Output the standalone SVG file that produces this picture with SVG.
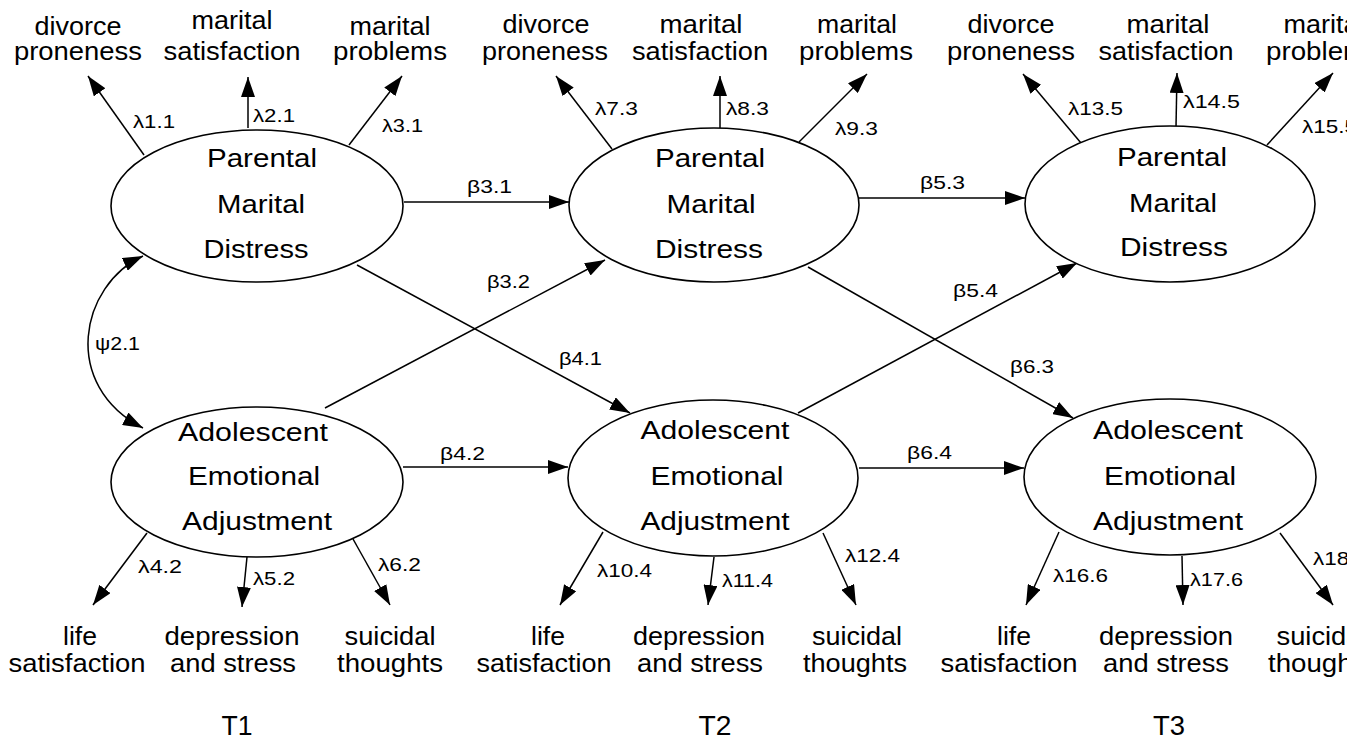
<svg xmlns="http://www.w3.org/2000/svg" width="1359" height="742" viewBox="0 0 1359 742">
<style>
.e{fill:#fff;stroke:#000;stroke-width:1.6}
.c{fill:none;stroke:#000;stroke-width:1.5}
text{font-family:"Liberation Sans",Arial,sans-serif;fill:#000}
.n{font-size:26px;text-anchor:middle}
.m{font-size:25px;text-anchor:middle}
.g{font-size:19px}
.t{font-size:27px;text-anchor:middle}
</style>
<defs>
<marker id="a" viewBox="0 0 20 14" markerWidth="20" markerHeight="14" markerUnits="userSpaceOnUse" refX="20" refY="7" orient="auto-start-reverse"><path d="M0,0 L20,7 L0,14 z" fill="#000"/></marker>
<clipPath id="clip"><rect x="0" y="0" width="1347" height="742"/></clipPath>
</defs>
<rect width="1359" height="742" fill="#fff"/>
<g clip-path="url(#clip)">
<g id="connectors">
<path class="c" marker-end="url(#a)" d="M144,155 L88,76"/>
<path class="c" marker-end="url(#a)" d="M248,128 L248,77"/>
<path class="c" marker-end="url(#a)" d="M349,145 L402,76"/>
<path class="c" marker-end="url(#a)" d="M612,149 L556,76"/>
<path class="c" marker-end="url(#a)" d="M720,128 L720,76"/>
<path class="c" marker-end="url(#a)" d="M799,142 L867,74"/>
<path class="c" marker-end="url(#a)" d="M1081,143 L1023,74"/>
<path class="c" marker-end="url(#a)" d="M1176,127 L1177,73"/>
<path class="c" marker-end="url(#a)" d="M1267,145 L1333,73"/>
<path class="c" marker-end="url(#a)" d="M147,533 L93,605"/>
<path class="c" marker-end="url(#a)" d="M247,557 L242,607"/>
<path class="c" marker-end="url(#a)" d="M353,539 L390,605"/>
<path class="c" marker-end="url(#a)" d="M603,532 L560,605"/>
<path class="c" marker-end="url(#a)" d="M714,557 L708,605"/>
<path class="c" marker-end="url(#a)" d="M823,533 L856,605"/>
<path class="c" marker-end="url(#a)" d="M1059,532 L1026,605"/>
<path class="c" marker-end="url(#a)" d="M1182,556 L1183,605"/>
<path class="c" marker-end="url(#a)" d="M1280,533 L1333,605"/>
<path class="c" marker-end="url(#a)" d="M404,202 L569,202"/>
<path class="c" marker-end="url(#a)" d="M859,198 L1025,198"/>
<path class="c" marker-end="url(#a)" d="M403,467 L568,467"/>
<path class="c" marker-end="url(#a)" d="M859,468 L1024,468"/>
<path class="c" marker-end="url(#a)" d="M357,265 L630,413"/>
<path class="c" marker-end="url(#a)" d="M325,408 L605,260"/>
<path class="c" marker-end="url(#a)" d="M808,267 L1073,418"/>
<path class="c" marker-end="url(#a)" d="M798,413 L1077,263"/>
<path class="c" marker-start="url(#a)" marker-end="url(#a)" d="M143,256 C80,285 60,385 143,428"/>
</g>
<g id="labels">
<text class="g" x="133" y="128" textLength="42" lengthAdjust="spacingAndGlyphs">λ1.1</text>
<text class="g" x="253" y="122" textLength="42" lengthAdjust="spacingAndGlyphs">λ2.1</text>
<text class="g" x="382" y="132" textLength="41" lengthAdjust="spacingAndGlyphs">λ3.1</text>
<text class="g" x="595" y="115" textLength="43" lengthAdjust="spacingAndGlyphs">λ7.3</text>
<text class="g" x="726" y="115" textLength="43" lengthAdjust="spacingAndGlyphs">λ8.3</text>
<text class="g" x="835" y="135" textLength="43" lengthAdjust="spacingAndGlyphs">λ9.3</text>
<text class="g" x="1068" y="115" textLength="55" lengthAdjust="spacingAndGlyphs">λ13.5</text>
<text class="g" x="1183" y="108" textLength="57" lengthAdjust="spacingAndGlyphs">λ14.5</text>
<text class="g" x="1302" y="133" textLength="55" lengthAdjust="spacingAndGlyphs">λ15.5</text>
<text class="g" x="138" y="573" textLength="44" lengthAdjust="spacingAndGlyphs">λ4.2</text>
<text class="g" x="253" y="585" textLength="42" lengthAdjust="spacingAndGlyphs">λ5.2</text>
<text class="g" x="378" y="571" textLength="43" lengthAdjust="spacingAndGlyphs">λ6.2</text>
<text class="g" x="597" y="577" textLength="55" lengthAdjust="spacingAndGlyphs">λ10.4</text>
<text class="g" x="722" y="587" textLength="51" lengthAdjust="spacingAndGlyphs">λ11.4</text>
<text class="g" x="845" y="562" textLength="55" lengthAdjust="spacingAndGlyphs">λ12.4</text>
<text class="g" x="1053" y="582" textLength="55" lengthAdjust="spacingAndGlyphs">λ16.6</text>
<text class="g" x="1190" y="586" textLength="53" lengthAdjust="spacingAndGlyphs">λ17.6</text>
<text class="g" x="1313" y="565" textLength="55" lengthAdjust="spacingAndGlyphs">λ18.6</text>
<text class="g" x="467" y="193" textLength="45" lengthAdjust="spacingAndGlyphs">β3.1</text>
<text class="g" x="920" y="189" textLength="45" lengthAdjust="spacingAndGlyphs">β5.3</text>
<text class="g" x="440" y="460" textLength="45" lengthAdjust="spacingAndGlyphs">β4.2</text>
<text class="g" x="907" y="459" textLength="45" lengthAdjust="spacingAndGlyphs">β6.4</text>
<text class="g" x="559" y="365" textLength="43" lengthAdjust="spacingAndGlyphs">β4.1</text>
<text class="g" x="487" y="288" textLength="43" lengthAdjust="spacingAndGlyphs">β3.2</text>
<text class="g" x="1010" y="373" textLength="44" lengthAdjust="spacingAndGlyphs">β6.3</text>
<text class="g" x="953" y="297" textLength="45" lengthAdjust="spacingAndGlyphs">β5.4</text>
<text class="g" x="95" y="350" textLength="45" lengthAdjust="spacingAndGlyphs">ψ2.1</text>
</g>
<g id="pmd1">
<ellipse class="e" cx="257" cy="206" rx="146" ry="76"/>
<text class="n" x="262" y="167" textLength="110" lengthAdjust="spacingAndGlyphs">Parental</text>
<text class="n" x="261" y="213" textLength="88" lengthAdjust="spacingAndGlyphs">Marital</text>
<text class="n" x="256" y="258" textLength="105" lengthAdjust="spacingAndGlyphs">Distress</text>
</g>
<g id="pmd2">
<ellipse class="e" cx="714" cy="205" rx="145" ry="77"/>
<text class="n" x="710" y="167" textLength="110" lengthAdjust="spacingAndGlyphs">Parental</text>
<text class="n" x="711" y="213" textLength="89" lengthAdjust="spacingAndGlyphs">Marital</text>
<text class="n" x="709" y="258" textLength="108" lengthAdjust="spacingAndGlyphs">Distress</text>
</g>
<g id="pmd3">
<ellipse class="e" cx="1170" cy="204" rx="145" ry="78"/>
<text class="n" x="1172" y="166" textLength="110" lengthAdjust="spacingAndGlyphs">Parental</text>
<text class="n" x="1173" y="212" textLength="88" lengthAdjust="spacingAndGlyphs">Marital</text>
<text class="n" x="1174" y="256" textLength="108" lengthAdjust="spacingAndGlyphs">Distress</text>
</g>
<g id="aea1">
<ellipse class="e" cx="257" cy="482" rx="146" ry="75"/>
<text class="n" x="253" y="441" textLength="150" lengthAdjust="spacingAndGlyphs">Adolescent</text>
<text class="n" x="254" y="485" textLength="132" lengthAdjust="spacingAndGlyphs">Emotional</text>
<text class="n" x="257" y="530" textLength="150" lengthAdjust="spacingAndGlyphs">Adjustment</text>
</g>
<g id="aea2">
<ellipse class="e" cx="713" cy="478" rx="145" ry="78"/>
<text class="n" x="715" y="439" textLength="149" lengthAdjust="spacingAndGlyphs">Adolescent</text>
<text class="n" x="717" y="485" textLength="133" lengthAdjust="spacingAndGlyphs">Emotional</text>
<text class="n" x="715" y="530" textLength="149" lengthAdjust="spacingAndGlyphs">Adjustment</text>
</g>
<g id="aea3">
<ellipse class="e" cx="1170" cy="477" rx="146" ry="78"/>
<text class="n" x="1168" y="439" textLength="150" lengthAdjust="spacingAndGlyphs">Adolescent</text>
<text class="n" x="1170" y="485" textLength="132" lengthAdjust="spacingAndGlyphs">Emotional</text>
<text class="n" x="1168" y="530" textLength="150" lengthAdjust="spacingAndGlyphs">Adjustment</text>
</g>
<g id="ind-divorce1"><text class="m" x="78" y="35" textLength="87" lengthAdjust="spacingAndGlyphs">divorce</text><text class="m" x="78" y="60" textLength="128" lengthAdjust="spacingAndGlyphs">proneness</text></g>
<g id="ind-msat1"><text class="m" x="232" y="29" textLength="81" lengthAdjust="spacingAndGlyphs">marital</text><text class="m" x="232" y="60" textLength="137" lengthAdjust="spacingAndGlyphs">satisfaction</text></g>
<g id="ind-mprob1"><text class="m" x="390" y="35" textLength="81" lengthAdjust="spacingAndGlyphs">marital</text><text class="m" x="390" y="60" textLength="114" lengthAdjust="spacingAndGlyphs">problems</text></g>
<g id="ind-divorce2"><text class="m" x="546" y="33" textLength="87" lengthAdjust="spacingAndGlyphs">divorce</text><text class="m" x="545" y="60" textLength="126" lengthAdjust="spacingAndGlyphs">proneness</text></g>
<g id="ind-msat2"><text class="m" x="701" y="33" textLength="83" lengthAdjust="spacingAndGlyphs">marital</text><text class="m" x="700" y="60" textLength="136" lengthAdjust="spacingAndGlyphs">satisfaction</text></g>
<g id="ind-mprob2"><text class="m" x="857" y="33" textLength="80" lengthAdjust="spacingAndGlyphs">marital</text><text class="m" x="856" y="60" textLength="114" lengthAdjust="spacingAndGlyphs">problems</text></g>
<g id="ind-divorce3"><text class="m" x="1011" y="33" textLength="87" lengthAdjust="spacingAndGlyphs">divorce</text><text class="m" x="1011" y="60" textLength="128" lengthAdjust="spacingAndGlyphs">proneness</text></g>
<g id="ind-msat3"><text class="m" x="1168" y="33" textLength="83" lengthAdjust="spacingAndGlyphs">marital</text><text class="m" x="1166" y="60" textLength="135" lengthAdjust="spacingAndGlyphs">satisfaction</text></g>
<g id="ind-mprob3"><text class="m" x="1324" y="33" textLength="81" lengthAdjust="spacingAndGlyphs">marital</text><text class="m" x="1323" y="60" textLength="114" lengthAdjust="spacingAndGlyphs">problems</text></g>
<g id="ind-life1"><text class="m" x="80" y="645" textLength="34" lengthAdjust="spacingAndGlyphs">life</text><text class="m" x="77" y="672" textLength="137" lengthAdjust="spacingAndGlyphs">satisfaction</text></g>
<g id="ind-dep1"><text class="m" x="232" y="645" textLength="135" lengthAdjust="spacingAndGlyphs">depression</text><text class="m" x="233" y="672" textLength="126" lengthAdjust="spacingAndGlyphs">and stress</text></g>
<g id="ind-sui1"><text class="m" x="390" y="645" textLength="91" lengthAdjust="spacingAndGlyphs">suicidal</text><text class="m" x="390" y="672" textLength="106" lengthAdjust="spacingAndGlyphs">thoughts</text></g>
<g id="ind-life2"><text class="m" x="548" y="645" textLength="34" lengthAdjust="spacingAndGlyphs">life</text><text class="m" x="544" y="672" textLength="135" lengthAdjust="spacingAndGlyphs">satisfaction</text></g>
<g id="ind-dep2"><text class="m" x="699" y="645" textLength="132" lengthAdjust="spacingAndGlyphs">depression</text><text class="m" x="700" y="672" textLength="126" lengthAdjust="spacingAndGlyphs">and stress</text></g>
<g id="ind-sui2"><text class="m" x="857" y="645" textLength="90" lengthAdjust="spacingAndGlyphs">suicidal</text><text class="m" x="855" y="672" textLength="104" lengthAdjust="spacingAndGlyphs">thoughts</text></g>
<g id="ind-life3"><text class="m" x="1014" y="645" textLength="34" lengthAdjust="spacingAndGlyphs">life</text><text class="m" x="1009" y="672" textLength="137" lengthAdjust="spacingAndGlyphs">satisfaction</text></g>
<g id="ind-dep3"><text class="m" x="1166" y="645" textLength="134" lengthAdjust="spacingAndGlyphs">depression</text><text class="m" x="1166" y="672" textLength="126" lengthAdjust="spacingAndGlyphs">and stress</text></g>
<g id="ind-sui3"><text class="m" x="1322" y="645" textLength="91" lengthAdjust="spacingAndGlyphs">suicidal</text><text class="m" x="1321" y="672" textLength="106" lengthAdjust="spacingAndGlyphs">thoughts</text></g>
<g id="time">
<text class="t" x="237" y="735" textLength="31" lengthAdjust="spacingAndGlyphs">T1</text>
<text class="t" x="715" y="735" textLength="33" lengthAdjust="spacingAndGlyphs">T2</text>
<text class="t" x="1169" y="735" textLength="32" lengthAdjust="spacingAndGlyphs">T3</text>
</g>
</g>
</svg>
